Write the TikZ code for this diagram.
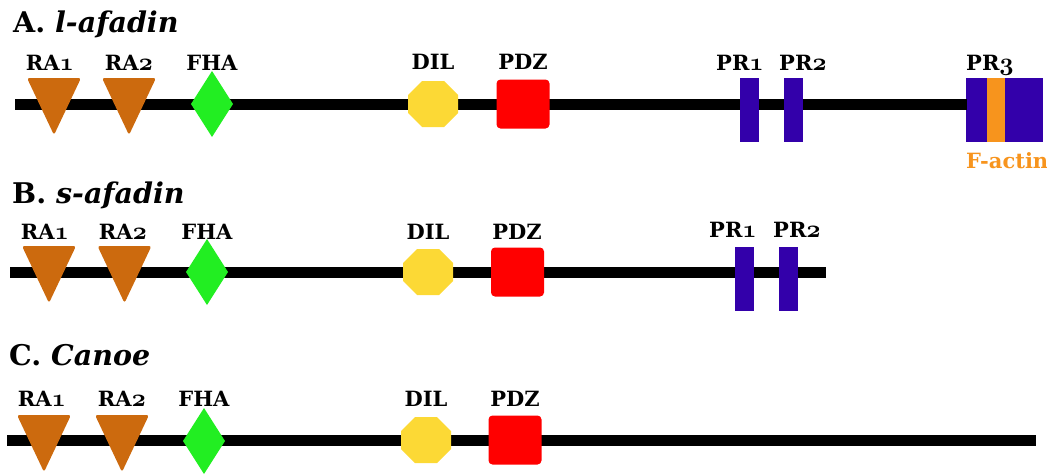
\documentclass[tikz,border=0pt]{standalone}
\usepackage{fontspec}
\setmainfont{DejaVu Serif}
\newcommand\osd[1]{{\fontencoding{OML}\fontfamily{cmm}\fontseries{b}\fontshape{it}\fontsize{26}{26}\selectfont #1}}
\definecolor{rabrown}{HTML}{CC6A0E}
\definecolor{fhagreen}{HTML}{22EE22}
\definecolor{dilyellow}{HTML}{FCD935}
\definecolor{pdzred}{HTML}{FF0000}
\definecolor{prblue}{HTML}{3300AA}
\definecolor{factin}{HTML}{F7941D}
\tikzset{
  backbone/.style={line width=11pt, draw=black},
  lab/.style={font=\fontsize{21}{21}\selectfont\bfseries, anchor=base, inner sep=0pt},
  ttl/.style={font=\fontsize{28.5}{28.5}\selectfont\bfseries, anchor=base west, inner sep=0pt},
  ratri/.pic={\fill[rabrown, rounded corners=2.5pt] (-27,-26) -- (27,-26) -- (0,31) -- cycle;},
  fhadia/.pic={\fill[fhagreen] (0,-33) -- (21,0) -- (0,33) -- (-21,0) -- cycle;},
  diloct/.pic={\fill[dilyellow] (-25,-9) -- (-11,-23) -- (11,-23) -- (25,-9) -- (25,9) -- (11,23) -- (-11,23) -- (-25,9) -- cycle;},
  pdzbox/.style={fill=pdzred, rounded corners=4pt, minimum width=53pt, minimum height=49pt, inner sep=0pt},
  prbox/.style={fill=prblue, minimum width=19pt, minimum height=64pt, inner sep=0pt},
}
\begin{document}
\begin{tikzpicture}[x=1pt,y=-1pt]
\useasboundingbox (0,0) rectangle (1047,474);
% ---------- Row A
\node[ttl] (tA) at (13,32) {A. \textit{l-afadin}};
\node[prbox, minimum width=77pt] (Apr3) at (1004.5,110) {};
\coordinate (Astart) at (15,104);
\coordinate (Aend) at (967,104);
\draw[backbone] (Astart) -- (Aend);
\node[fill=factin, minimum width=18pt, minimum height=64pt, inner sep=0pt] (Afact) at (996,110) {};
\pic (Ara1) at (54,104) {ratri};
\pic (Ara2) at (129,104) {ratri};
\pic (Afha) at (212,104) {fhadia};
\pic (Adil) at (433,104) {diloct};
\node[pdzbox] (Apdz) at (523,104) {};
\node[prbox] (Apr1) at (749.5,110) {};
\node[prbox] (Apr2) at (793.5,110) {};
\node[lab] (lAra1) at (50,70) {RA\osd{1}};
\node[lab] (lAra2) at (129,70) {RA\osd{2}};
\node[lab] (lAfha) at (212,70) {FHA};
\node[lab] (lAdil) at (433,69) {DIL};
\node[lab] (lApdz) at (523,69) {PDZ};
\node[lab] (lApr1) at (740,70) {PR\osd{1}};
\node[lab] (lApr2) at (803,70) {PR\osd{2}};
\node[lab] (lApr3) at (990,70) {PR\osd{3}};
\node[lab, anchor=base west, text=factin] (lAfact) at (966,168) {F-actin};
% ---------- Row B
\node[ttl] (tB) at (12,203) {B. \textit{s-afadin}};
\coordinate (Bstart) at (10,272);
\coordinate (Bend) at (826,272);
\draw[backbone] (Bstart) -- (Bend);
\pic (Bra1) at (49,272) {ratri};
\pic (Bra2) at (124.5,272) {ratri};
\pic (Bfha) at (207,272) {fhadia};
\pic (Bdil) at (428,272) {diloct};
\node[pdzbox] (Bpdz) at (517.5,272) {};
\node[prbox] (Bpr1) at (744.5,279) {};
\node[prbox] (Bpr2) at (788.5,279) {};
\node[lab] (lBra1) at (45,239) {RA\osd{1}};
\node[lab] (lBra2) at (123,239) {RA\osd{2}};
\node[lab] (lBfha) at (207,239) {FHA};
\node[lab] (lBdil) at (428,239) {DIL};
\node[lab] (lBpdz) at (517,239) {PDZ};
\node[lab] (lBpr1) at (733,237) {PR\osd{1}};
\node[lab] (lBpr2) at (797,237) {PR\osd{2}};
% ---------- Row C
\node[ttl] (tC) at (9,365) {C. \textit{Canoe}};
\coordinate (Cstart) at (7,440);
\coordinate (Cend) at (1036,440);
\draw[backbone] (Cstart) -- (Cend);
\pic (Cra1) at (44,441) {ratri};
\pic (Cra2) at (122,441) {ratri};
\pic (Cfha) at (204,441) {fhadia};
\pic (Cdil) at (426,440) {diloct};
\node[pdzbox] (Cpdz) at (515,440) {};
\node[lab] (lCra1) at (42,406) {RA\osd{1}};
\node[lab] (lCra2) at (122,406) {RA\osd{2}};
\node[lab] (lCfha) at (204,406) {FHA};
\node[lab] (lCdil) at (426,406) {DIL};
\node[lab] (lCpdz) at (515,406) {PDZ};
\end{tikzpicture}
\end{document}
